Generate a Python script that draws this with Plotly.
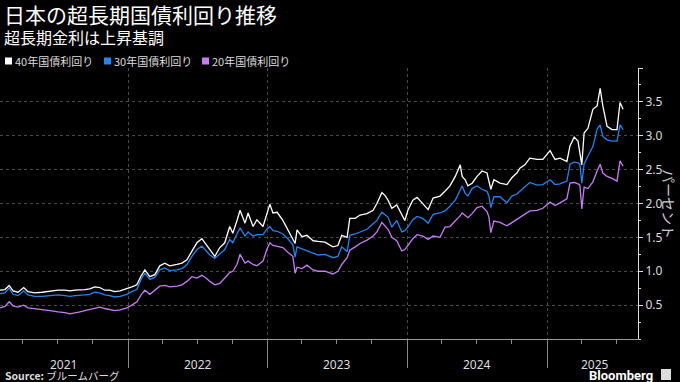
import plotly.graph_objects as go

# ---- data ----
dates = [
    "2021-01-31","2021-02-13","2021-02-24","2021-03-06","2021-03-19","2021-04-03","2021-04-14","2021-05-02",
    "2021-05-21","2021-06-11","2021-07-02","2021-07-20","2021-08-02","2021-08-15","2021-08-28","2021-09-10",
    "2021-09-23","2021-10-06","2021-10-19","2021-11-01","2021-11-14","2021-11-27","2021-12-11","2021-12-29",
    "2022-01-11","2022-01-24","2022-02-04","2022-02-14","2022-02-27","2022-03-12","2022-03-25","2022-04-07",
    "2022-04-20","2022-05-09","2022-05-22","2022-06-04","2022-06-17","2022-06-30","2022-07-13","2022-07-24",
    "2022-08-03","2022-08-16","2022-08-29","2022-09-11","2022-09-24","2022-10-02","2022-10-13","2022-10-21",
    "2022-11-03","2022-11-11","2022-11-24","2022-12-04","2022-12-20","2022-12-30",
    "2023-01-07","2023-01-15","2023-01-26","2023-02-10","2023-02-23","2023-03-08","2023-03-14","2023-03-19",
    "2023-04-01","2023-04-14","2023-04-30","2023-05-13","2023-05-31","2023-06-21","2023-07-04","2023-07-14",
    "2023-07-28","2023-08-04","2023-08-18","2023-08-31","2023-09-18","2023-10-04","2023-10-14","2023-10-27",
    "2023-11-04","2023-11-12","2023-11-22","2023-12-05","2023-12-18","2023-12-26",
    "2024-01-03","2024-01-16","2024-01-27","2024-02-11","2024-02-25","2024-03-09","2024-03-27","2024-04-09",
    "2024-04-22","2024-05-06","2024-05-19","2024-05-24","2024-06-01","2024-06-08","2024-06-19","2024-07-02",
    "2024-07-15","2024-07-28","2024-08-02","2024-08-07","2024-08-15","2024-08-31","2024-09-18","2024-10-01",
    "2024-10-14","2024-10-22","2024-11-04","2024-11-17","2024-12-06","2024-12-21",
    "2025-01-09","2025-01-22","2025-02-04","2025-02-22","2025-03-02","2025-03-13","2025-03-23","2025-03-28",
    "2025-04-02","2025-04-08","2025-04-18","2025-05-01","2025-05-12","2025-05-20","2025-05-27","2025-06-07",
    "2025-06-20","2025-07-03","2025-07-11","2025-07-19",
]

yield_40y = [
    .72,.73,.79,.71,.69,.76,.70,.68,.69,.71,.72,.72,.71,.72,.72,.73,.74,.77,.76,.72,.72,.70,.71,.74,
    .77,.80,.93,1.02,.92,.95,1.08,1.12,1.08,1.10,1.12,1.17,1.30,1.42,1.48,1.40,1.32,1.22,1.35,1.42,
    1.66,1.56,1.75,1.90,1.71,1.86,1.66,1.76,1.66,1.86,
    1.99,1.86,1.87,1.75,1.62,1.49,1.41,1.61,1.51,1.53,1.45,1.44,1.43,1.36,1.38,1.53,1.50,1.78,1.78,1.83,
    1.85,1.90,2.00,2.16,2.12,2.05,1.93,1.98,1.83,1.75,
    1.90,2.05,2.09,2.00,1.91,2.08,2.11,2.18,2.26,2.40,2.57,2.40,2.35,2.26,2.30,2.40,2.48,2.45,2.33,2.21,
    2.35,2.30,2.28,2.38,2.45,2.52,2.57,2.67,2.65,2.65,
    2.78,2.65,2.67,2.62,2.85,2.98,2.92,2.74,2.57,3.04,3.11,3.39,3.44,3.70,3.44,3.14,3.09,3.09,3.49,3.39,
]

yield_30y = [
    .67,.68,.75,.66,.64,.71,.65,.63,.63,.64,.65,.64,.63,.64,.64,.65,.66,.69,.68,.65,.64,.62,.63,.66,
    .70,.73,.88,.97,.88,.91,1.02,1.05,1.01,1.02,1.04,1.10,1.22,1.32,1.37,1.30,1.24,1.19,1.25,1.32,
    1.47,1.42,1.55,1.64,1.52,1.58,1.52,1.54,1.54,1.62,
    1.66,1.60,1.59,1.55,1.48,1.39,1.21,1.36,1.33,1.30,1.26,1.24,1.25,1.20,1.22,1.36,1.29,1.53,1.55,1.58,
    1.62,1.70,1.75,1.87,1.84,1.80,1.65,1.75,1.58,1.60,
    1.65,1.76,1.81,1.78,1.71,1.84,1.86,1.89,1.96,2.05,2.20,2.26,2.15,2.11,2.22,2.26,2.21,2.18,2.11,1.94,
    2.10,2.10,2.01,2.11,2.14,2.18,2.24,2.31,2.27,2.28,
    2.35,2.28,2.29,2.33,2.58,2.61,2.60,2.58,2.30,2.58,2.70,2.84,3.10,3.16,2.99,2.94,2.92,2.92,3.16,3.09,
]

yield_20y = [
    .46,.48,.55,.49,.47,.50,.46,.45,.43,.42,.40,.39,.37,.38,.40,.42,.44,.46,.47,.45,.44,.42,.43,.46,
    .50,.55,.65,.72,.66,.72,.78,.79,.77,.78,.80,.85,.92,.90,.94,.90,.85,.80,.82,.90,
    .98,1.00,1.10,1.25,1.12,1.15,1.10,1.08,1.15,1.32,
    1.42,1.38,1.37,1.35,1.28,1.22,0.97,1.06,1.04,1.09,1.02,1.00,1.00,0.96,1.00,1.10,1.20,1.31,1.36,1.41,
    1.46,1.52,1.58,1.72,1.67,1.62,1.50,1.45,1.30,1.32,
    1.38,1.48,1.54,1.52,1.47,1.52,1.50,1.65,1.66,1.74,1.82,1.86,1.82,1.79,1.85,1.94,1.96,1.88,1.80,1.57,
    1.74,1.72,1.67,1.72,1.77,1.80,1.85,1.89,1.90,1.93,
    2.02,1.97,2.01,2.07,2.30,2.31,2.29,2.27,1.92,2.24,2.22,2.32,2.48,2.58,2.45,2.40,2.37,2.33,2.63,2.55,
]

series_names = ["40年国債利回り", "30年国債利回り", "20年国債利回り"]
series_colors = ["#ffffff", "#2a82ea", "#c57ef0"]

year_labels = ["2021", "2022", "2023", "2024", "2025"]
year_label_dates = ["2021-07-17", "2022-07-02", "2023-07-02", "2024-07-02", "2025-05-06"]
year_starts = ["2022-01-01", "2023-01-01", "2024-01-01", "2025-01-01"]
quarter_ticks = [f"{y}-{m:02d}-01" for y in range(2021, 2026) for m in (1, 4, 7, 10)]

y_tickvals = [0.5, 1.0, 1.5, 2.0, 2.5, 3.0, 3.5, 4.0]
y_ticktext = ["0.5", "1.0", "1.5", "2.0", "2.5", "3.0", "3.5", ""]

title = "日本の超長期国債利回り推移"
subtitle = "超長期金利は上昇基調"
y_title = "パーセント"

# ---- figure ----
W, H = 680, 382
ML, MR, MT, MB = 0, 42, 68, 43
PW, PH = W - ML - MR, H - MT - MB

def px(x):
    return (x - ML) / PW

def py(y):
    return (H - MB - y) / PH

CJK = "Noto Sans CJK JP"

fig = go.Figure()
for ys, name, col in [(yield_20y, series_names[2], series_colors[2]),
                      (yield_30y, series_names[1], series_colors[1]),
                      (yield_40y, series_names[0], series_colors[0])]:
    fig.add_trace(go.Scatter(x=dates, y=ys, mode="lines", name=name,
                             line=dict(color=col, width=1.3), showlegend=False))

fig.update_layout(
    width=W, height=H,
    margin=dict(l=ML, r=MR, t=MT, b=MB),
    paper_bgcolor="#000000", plot_bgcolor="#000000",
    font=dict(family=CJK, color="#dddddd"),
    xaxis=dict(
        type="date", range=["2021-01-31", "2025-08-27"],
        tickvals=year_starts, showticklabels=False,
        ticks="outside", ticklen=28, tickcolor="#8a8a8a", tickwidth=1,
        showgrid=True, gridcolor="#4a4a4a", griddash="dot", gridwidth=1,
        showline=True, linecolor="#9a9a9a", linewidth=1,
        zeroline=False,
        minor=dict(tickvals=quarter_ticks, ticks="outside", ticklen=4,
                   tickcolor="#8a8a8a", showgrid=False),
    ),
    yaxis=dict(
        side="right", range=[0, 4.0],
        tickvals=y_tickvals, ticktext=y_ticktext,
        ticks="outside", ticklen=4, tickcolor="#dddddd",
        tickfont=dict(family="Noto Sans", size=12, color="#dddddd"),
        showgrid=True, gridcolor="#4a4a4a", griddash="dot", gridwidth=1,
        showline=True, linecolor="#dddddd", linewidth=1,
        zeroline=False,
        minor=dict(dtick=0.25, ticks="outside", ticklen=2, tickcolor="#dddddd", showgrid=False),
    ),
)

ann = []
ann.append(dict(text=title, x=px(2), y=py(14), xref="paper", yref="paper",
                xanchor="left", yanchor="middle", showarrow=False,
                font=dict(family=CJK, size=21, color="#ffffff")))
ann.append(dict(text=subtitle, x=px(2), y=py(37), xref="paper", yref="paper",
                xanchor="left", yanchor="middle", showarrow=False,
                font=dict(family=CJK, size=16, color="#ffffff")))

legend_x = [5, 104, 202]
shapes = []
for lx, name, col in zip(legend_x, series_names, series_colors):
    shapes.append(dict(type="rect", xref="paper", yref="paper",
                       x0=px(lx), x1=px(lx + 7), y0=py(64.5), y1=py(57.5),
                       fillcolor=col, line=dict(width=0)))
    ann.append(dict(text=name, x=px(lx + 8), y=py(61), xref="paper", yref="paper",
                    xanchor="left", yanchor="middle", showarrow=False,
                    font=dict(family=CJK, size=11, color="#dddddd")))

for lab, d in zip(year_labels, year_label_dates):
    ann.append(dict(text=lab, x=d, y=py(364), xref="x", yref="paper",
                    xanchor="center", yanchor="middle", showarrow=False,
                    font=dict(family="Noto Sans", size=12, color="#dddddd")))

ann.append(dict(text=y_title, x=px(669), y=py(204), xref="paper", yref="paper",
                xanchor="center", yanchor="middle", showarrow=False, textangle=90,
                font=dict(family=CJK, size=14, color="#cccccc")))

ann.append(dict(text="<b>Source:</b> ブルームバーグ", x=px(3), y=py(375.5), xref="paper", yref="paper",
                xanchor="left", yanchor="middle", showarrow=False,
                font=dict(family=CJK, size=10.5, color="#dddddd")))
ann.append(dict(text="<b>Bloomberg</b>", x=px(655), y=py(375), xref="paper", yref="paper",
                xanchor="right", yanchor="middle", showarrow=False,
                font=dict(family="Roboto", size=13, color="#ffffff")))
shapes.append(dict(type="rect", xref="paper", yref="paper",
                   x0=px(661), x1=px(671), y0=py(380), y1=py(369),
                   fillcolor="#dddddd", line=dict(width=0)))

fig.update_layout(annotations=ann, shapes=shapes)
fig.write_html("out.html", config={"displayModeBar": False},
               post_script="document.body.style.margin='0';document.body.style.overflow='hidden';document.body.style.background='#000';")
